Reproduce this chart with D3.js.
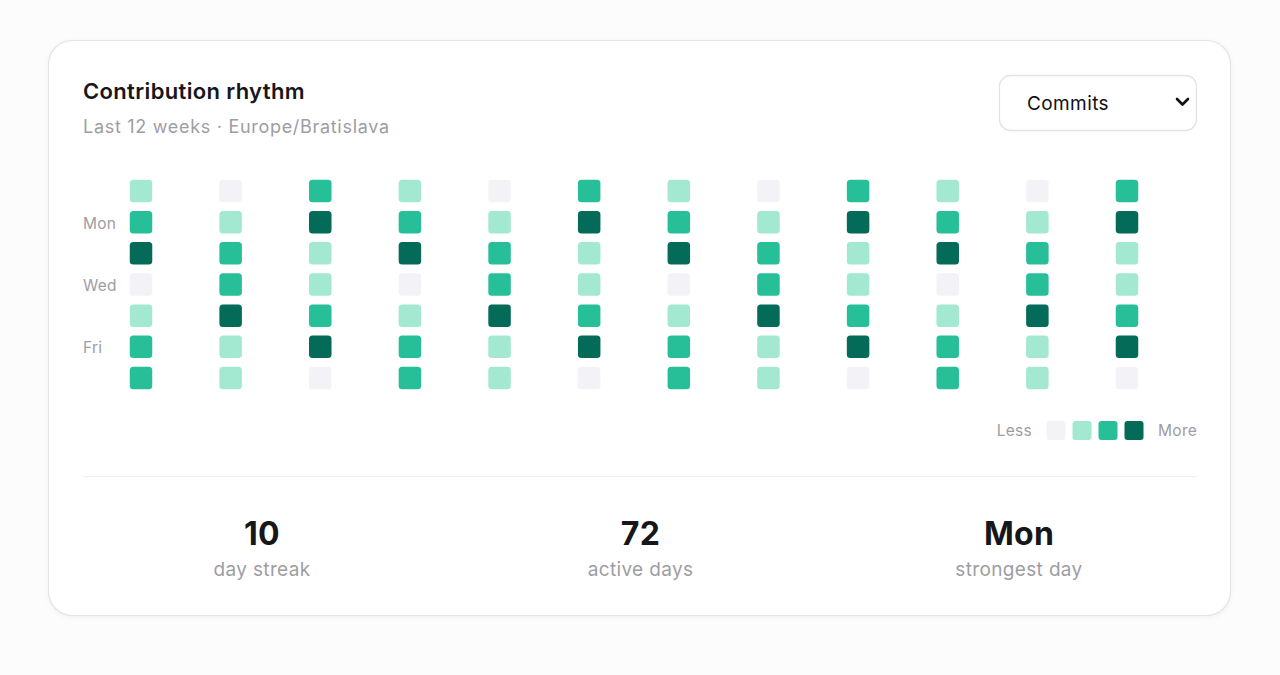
<!DOCTYPE html>
<html>
<head>
<meta charset="utf-8">
<script src="https://cdn.jsdelivr.net/npm/d3@7"></script>
<style>
  html, body { margin: 0; padding: 0; background: #fcfcfd; }
  body { width: 1280px; height: 675px; overflow: hidden; font-family: Inter, "Noto Sans", sans-serif; }
</style>
</head>
<body>
<svg id="chart" width="1280" height="675"></svg>
<script>
// ---- data ----
const weeks = ["W1","W2","W3","W4","W5","W6","W7","W8","W9","W10","W11","W12"];
const days = ["Sun","Mon","Tue","Wed","Thu","Fri","Sat"];
const dayLabels = ["Mon","Wed","Fri"];
// activity level (0..3) per week, rows Sun..Sat
const levels = [
  [1,2,3,0,1,2,2],
  [0,1,2,2,3,1,1],
  [2,3,1,1,2,3,0],
  [1,2,3,0,1,2,2],
  [0,1,2,2,3,1,1],
  [2,3,1,1,2,3,0],
  [1,2,3,0,1,2,2],
  [0,1,2,2,3,1,1],
  [2,3,1,1,2,3,0],
  [1,2,3,0,1,2,2],
  [0,1,2,2,3,1,1],
  [2,3,1,1,2,3,0]
];
const legendLevels = [0,1,2,3];
const statValues = ["10","72","Mon"];
const statLabels = ["day streak","active days","strongest day"];
const titleText = "Contribution rhythm";
const subtitleText = "Last 12 weeks · Europe/Bratislava";
const metricOptions = ["Commits"];

// ---- render ----
const svg = d3.select("#chart");
const palette = ["#f3f2f6", "#a3e9d1", "#27bf98", "#036b57"];
const color = d3.scaleOrdinal().domain(legendLevels).range(palette);

// card
const defs = svg.append("defs");
const f = defs.append("filter").attr("id","sh").attr("x","-5%").attr("y","-5%").attr("width","110%").attr("height","115%");
f.append("feDropShadow").attr("dx",0).attr("dy",1).attr("stdDeviation",2).attr("flood-color","#000").attr("flood-opacity",0.05);

svg.append("rect").attr("x",48.5).attr("y",40.5).attr("width",1182).attr("height",575)
  .attr("rx",24).attr("fill","#ffffff").attr("stroke","#e3e3e7").attr("stroke-width",1.2)
  .attr("filter","url(#sh)");

// title
svg.append("text").attr("x",83).attr("y",99).text(titleText)
  .attr("font-size",22).attr("font-weight",600).attr("letter-spacing",0.35).attr("fill","#17171a");
svg.append("text").attr("x",83).attr("y",133).text(subtitleText)
  .attr("font-size",18).attr("letter-spacing",0.7).attr("fill","#9d9da3");

// dropdown
const dd = svg.append("g");
dd.append("rect").attr("x",999.5).attr("y",75.5).attr("width",197).attr("height",55).attr("rx",11)
  .attr("fill","#fff").attr("stroke","#e3e3e7").attr("stroke-width",1.3);
dd.append("text").attr("x",1027).attr("y",110).text(metricOptions[0])
  .attr("font-size",19).attr("letter-spacing",0.4).attr("fill","#111");
dd.append("path").attr("d","M1177,99 L1182.5,104.5 L1188,99")
  .attr("fill","none").attr("stroke","#111").attr("stroke-width",2.6).attr("stroke-linecap","round").attr("stroke-linejoin","round");

// grid scales
const x = d3.scalePoint().domain(weeks).range([141, 1127]);
const y = d3.scalePoint().domain(days).range([191, 378]);
const cell = 22.5;

const cells = [];
weeks.forEach((w,i) => days.forEach((d,j) => cells.push({w, d, v: levels[i][j]})));

svg.append("g").selectAll("rect").data(cells).join("rect")
  .attr("x", c => x(c.w) - cell/2)
  .attr("y", c => y(c.d) - cell/2)
  .attr("width", cell).attr("height", cell).attr("rx", 3.5)
  .attr("fill", c => color(c.v));

// day labels
svg.append("g").selectAll("text").data(dayLabels).join("text")
  .attr("x", 83).attr("y", d => y(d) + 1).attr("dy","0.35em")
  .attr("font-size",15.5).attr("letter-spacing",0.2).attr("fill","#9d9da3").text(d => d);

// legend
const lg = svg.append("g");
const lx = d3.scalePoint().domain(legendLevels).range([1056, 1134]);
lg.append("text").attr("x",1032).attr("y",431).attr("dy","0.35em").attr("text-anchor","end")
  .attr("font-size",15.5).attr("letter-spacing",0.3).attr("fill","#9d9da3").text("Less");
lg.selectAll("rect").data(legendLevels).join("rect")
  .attr("x", d => lx(d) - 9.5).attr("y", 421).attr("width",19).attr("height",19).attr("rx",3)
  .attr("fill", d => color(d));
lg.append("text").attr("x",1158).attr("y",431).attr("dy","0.35em")
  .attr("font-size",15.5).attr("letter-spacing",0.3).attr("fill","#9d9da3").text("More");

// divider
svg.append("line").attr("x1",83).attr("x2",1197).attr("y1",476.5).attr("y2",476.5)
  .attr("stroke","#efeff2").attr("stroke-width",1);

// stats
const sx = d3.scalePoint().domain(statLabels).range([262, 1019]);
const st = svg.append("g").selectAll("g").data(statLabels).join("g")
  .attr("transform", d => `translate(${sx(d)},0)`);
st.append("text").attr("y",545).attr("text-anchor","middle")
  .attr("font-size",32).attr("font-weight",700).attr("letter-spacing",0.3).attr("fill","#17171a")
  .text((d,i) => statValues[i]);
st.append("text").attr("y",576).attr("text-anchor","middle")
  .attr("font-size",19).attr("letter-spacing",0.35).attr("fill","#9d9da3").text(d => d);
</script>
</body>
</html>
